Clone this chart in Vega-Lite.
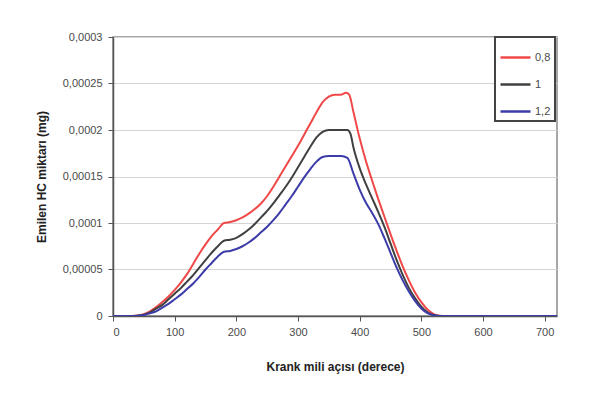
{
  "$schema": "https://vega.github.io/schema/vega-lite/v6.json",
  "autosize": {"type": "none"},
  "padding": {"left": 113, "top": 37, "right": 41, "bottom": 80},
  "width": 444,
  "height": 279,
  "background": "white",
  "config": {
    "font": "Liberation Sans",
    "view": {"stroke": "#8a8a8a", "strokeWidth": 1.5},
    "legend": {"strokeWidth": 2}
  },
  "datasets": {
    "d": [
      {"a":0,"v":0,"s":"0,8"},{"a":10,"v":0,"s":"0,8"},{"a":20,"v":0,"s":"0,8"},{"a":30,"v":0,"s":"0,8"},{"a":40,"v":0.0000005,"s":"0,8"},{"a":50,"v":0.000002,"s":"0,8"},{"a":60,"v":0.000005,"s":"0,8"},{"a":70,"v":0.0000095,"s":"0,8"},{"a":80,"v":0.000015,"s":"0,8"},{"a":90,"v":0.000021,"s":"0,8"},{"a":100,"v":0.000028,"s":"0,8"},{"a":110,"v":0.000036,"s":"0,8"},{"a":120,"v":0.000045,"s":"0,8"},{"a":130,"v":0.000056,"s":"0,8"},{"a":140,"v":0.000067,"s":"0,8"},{"a":150,"v":0.000077,"s":"0,8"},{"a":160,"v":0.000086,"s":"0,8"},{"a":170,"v":0.000093,"s":"0,8"},{"a":180,"v":0.0001,"s":"0,8"},{"a":190,"v":0.000101,"s":"0,8"},{"a":200,"v":0.000103,"s":"0,8"},{"a":210,"v":0.000106,"s":"0,8"},{"a":220,"v":0.00011,"s":"0,8"},{"a":230,"v":0.000115,"s":"0,8"},{"a":240,"v":0.000121,"s":"0,8"},{"a":250,"v":0.000129,"s":"0,8"},{"a":260,"v":0.000139,"s":"0,8"},{"a":270,"v":0.00015,"s":"0,8"},{"a":280,"v":0.000161,"s":"0,8"},{"a":290,"v":0.000172,"s":"0,8"},{"a":300,"v":0.000183,"s":"0,8"},{"a":310,"v":0.000195,"s":"0,8"},{"a":320,"v":0.000207,"s":"0,8"},{"a":330,"v":0.000219,"s":"0,8"},{"a":340,"v":0.00023,"s":"0,8"},{"a":350,"v":0.000236,"s":"0,8"},{"a":360,"v":0.000238,"s":"0,8"},{"a":370,"v":0.000238,"s":"0,8"},{"a":378,"v":0.00024,"s":"0,8"},{"a":383,"v":0.000238,"s":"0,8"},{"a":390,"v":0.000219,"s":"0,8"},{"a":400,"v":0.000191,"s":"0,8"},{"a":410,"v":0.000167,"s":"0,8"},{"a":420,"v":0.000146,"s":"0,8"},{"a":430,"v":0.000126,"s":"0,8"},{"a":440,"v":0.000107,"s":"0,8"},{"a":450,"v":0.000088,"s":"0,8"},{"a":460,"v":0.00007,"s":"0,8"},{"a":470,"v":0.000053,"s":"0,8"},{"a":480,"v":0.000038,"s":"0,8"},{"a":490,"v":0.000025,"s":"0,8"},{"a":500,"v":0.000015,"s":"0,8"},{"a":510,"v":0.000007,"s":"0,8"},{"a":520,"v":0.000002,"s":"0,8"},{"a":530,"v":0.0000003,"s":"0,8"},{"a":540,"v":0,"s":"0,8"},{"a":720,"v":0,"s":"0,8"},
      {"a":0,"v":0,"s":"1"},{"a":10,"v":0,"s":"1"},{"a":20,"v":0,"s":"1"},{"a":30,"v":0,"s":"1"},{"a":40,"v":0.0000004,"s":"1"},{"a":50,"v":0.0000015,"s":"1"},{"a":60,"v":0.000004,"s":"1"},{"a":70,"v":0.000008,"s":"1"},{"a":80,"v":0.000012,"s":"1"},{"a":90,"v":0.000018,"s":"1"},{"a":100,"v":0.000024,"s":"1"},{"a":110,"v":0.00003,"s":"1"},{"a":120,"v":0.000037,"s":"1"},{"a":130,"v":0.000044,"s":"1"},{"a":140,"v":0.000052,"s":"1"},{"a":150,"v":0.00006,"s":"1"},{"a":160,"v":0.000068,"s":"1"},{"a":170,"v":0.000075,"s":"1"},{"a":180,"v":0.000081,"s":"1"},{"a":190,"v":0.000082,"s":"1"},{"a":200,"v":0.000084,"s":"1"},{"a":210,"v":0.000088,"s":"1"},{"a":220,"v":0.000093,"s":"1"},{"a":230,"v":0.000099,"s":"1"},{"a":240,"v":0.000106,"s":"1"},{"a":250,"v":0.000113,"s":"1"},{"a":260,"v":0.000121,"s":"1"},{"a":270,"v":0.00013,"s":"1"},{"a":280,"v":0.000139,"s":"1"},{"a":290,"v":0.000149,"s":"1"},{"a":300,"v":0.00016,"s":"1"},{"a":310,"v":0.000171,"s":"1"},{"a":320,"v":0.000182,"s":"1"},{"a":330,"v":0.000192,"s":"1"},{"a":340,"v":0.000198,"s":"1"},{"a":350,"v":0.0002,"s":"1"},{"a":360,"v":0.0002,"s":"1"},{"a":370,"v":0.0002,"s":"1"},{"a":380,"v":0.0002,"s":"1"},{"a":385,"v":0.000196,"s":"1"},{"a":390,"v":0.000181,"s":"1"},{"a":400,"v":0.000159,"s":"1"},{"a":410,"v":0.000142,"s":"1"},{"a":420,"v":0.000127,"s":"1"},{"a":430,"v":0.000112,"s":"1"},{"a":440,"v":0.000096,"s":"1"},{"a":450,"v":0.000078,"s":"1"},{"a":460,"v":0.00006,"s":"1"},{"a":470,"v":0.000044,"s":"1"},{"a":480,"v":0.00003,"s":"1"},{"a":490,"v":0.000019,"s":"1"},{"a":500,"v":0.00001,"s":"1"},{"a":510,"v":0.000004,"s":"1"},{"a":520,"v":0.000001,"s":"1"},{"a":530,"v":0,"s":"1"},{"a":720,"v":0,"s":"1"},
      {"a":0,"v":0,"s":"1,2"},{"a":10,"v":0,"s":"1,2"},{"a":20,"v":0,"s":"1,2"},{"a":30,"v":0,"s":"1,2"},{"a":40,"v":0.0000002,"s":"1,2"},{"a":50,"v":0.000001,"s":"1,2"},{"a":60,"v":0.000003,"s":"1,2"},{"a":70,"v":0.000005,"s":"1,2"},{"a":80,"v":0.000009,"s":"1,2"},{"a":90,"v":0.000013,"s":"1,2"},{"a":100,"v":0.000018,"s":"1,2"},{"a":110,"v":0.000023,"s":"1,2"},{"a":120,"v":0.000029,"s":"1,2"},{"a":130,"v":0.000035,"s":"1,2"},{"a":140,"v":0.000042,"s":"1,2"},{"a":150,"v":0.00005,"s":"1,2"},{"a":160,"v":0.000057,"s":"1,2"},{"a":170,"v":0.000064,"s":"1,2"},{"a":180,"v":0.000069,"s":"1,2"},{"a":190,"v":0.00007,"s":"1,2"},{"a":200,"v":0.000072,"s":"1,2"},{"a":210,"v":0.000075,"s":"1,2"},{"a":220,"v":0.000079,"s":"1,2"},{"a":230,"v":0.000084,"s":"1,2"},{"a":240,"v":0.00009,"s":"1,2"},{"a":250,"v":0.000096,"s":"1,2"},{"a":260,"v":0.000103,"s":"1,2"},{"a":270,"v":0.000111,"s":"1,2"},{"a":280,"v":0.00012,"s":"1,2"},{"a":290,"v":0.000129,"s":"1,2"},{"a":300,"v":0.000139,"s":"1,2"},{"a":310,"v":0.000149,"s":"1,2"},{"a":320,"v":0.000158,"s":"1,2"},{"a":330,"v":0.000166,"s":"1,2"},{"a":340,"v":0.000171,"s":"1,2"},{"a":350,"v":0.000172,"s":"1,2"},{"a":360,"v":0.000172,"s":"1,2"},{"a":370,"v":0.000172,"s":"1,2"},{"a":380,"v":0.00017,"s":"1,2"},{"a":390,"v":0.000153,"s":"1,2"},{"a":400,"v":0.000136,"s":"1,2"},{"a":410,"v":0.000122,"s":"1,2"},{"a":420,"v":0.000111,"s":"1,2"},{"a":430,"v":0.000099,"s":"1,2"},{"a":440,"v":0.000084,"s":"1,2"},{"a":450,"v":0.000068,"s":"1,2"},{"a":460,"v":0.000052,"s":"1,2"},{"a":470,"v":0.000038,"s":"1,2"},{"a":480,"v":0.000026,"s":"1,2"},{"a":490,"v":0.000016,"s":"1,2"},{"a":500,"v":0.000008,"s":"1,2"},{"a":510,"v":0.000003,"s":"1,2"},{"a":520,"v":0.0000008,"s":"1,2"},{"a":530,"v":0,"s":"1,2"},{"a":720,"v":0,"s":"1,2"}
    ]
  },
  "data": {"name": "d"},
  "mark": {"type": "line", "interpolate": "monotone", "strokeWidth": 2, "clip": true},
  "encoding": {
    "x": {
      "field": "a", "type": "quantitative",
      "scale": {"domain": [0, 720], "nice": false},
      "axis": {
        "values": [0, 100, 200, 300, 400, 500, 600, 700],
        "title": "Krank mili açısı (derece)",
        "grid": false,
        "domainColor": "#555", "domainWidth": 1.5,
        "tickColor": "#555", "tickSize": 5,
        "labelFont": "Liberation Sans", "labelFontSize": 11, "labelColor": "#4a4a4a", "labelPadding": 5,
        "titleFont": "Liberation Sans", "titleFontSize": 12, "titleFontWeight": "bold", "titleColor": "#222", "titlePadding": 24
      }
    },
    "y": {
      "field": "v", "type": "quantitative",
      "scale": {"domain": [0, 0.0003], "nice": false},
      "axis": {
        "values": [0, 0.00005, 0.0001, 0.00015, 0.0002, 0.00025, 0.0003],
        "labelExpr": "replace(toString(datum.value), '.', ',')",
        "title": "Emilen HC miktarı (mg)",
        "grid": true, "gridColor": "#d4d4d4", "gridWidth": 1,
        "domainColor": "#555", "domainWidth": 1.5,
        "tickColor": "#555", "tickSize": 5,
        "labelFont": "Liberation Sans", "labelFontSize": 11, "labelColor": "#4a4a4a", "labelPadding": 6,
        "titleFont": "Liberation Sans", "titleFontSize": 12, "titleFontWeight": "bold", "titleColor": "#222", "titlePadding": 14
      }
    },
    "color": {
      "field": "s", "type": "nominal",
      "scale": {"domain": ["0,8", "1", "1,2"], "range": ["#f04848", "#404040", "#3c3ca8"]},
      "legend": {
        "title": null,
        "orient": "none",
        "legendX": 382,
        "legendY": 0,
        "symbolType": "stroke",
        "symbolSize": 900,
        "symbolStrokeWidth": 2.5,
        "labelFont": "Liberation Sans",
        "labelFontSize": 11,
        "labelColor": "#4a4a4a",
        "labelOffset": 3,
        "rowPadding": 5,
        "padding": 4,
        "strokeColor": "#444",
        "fillColor": "white",
        "cornerRadius": 0
      }
    }
  }
}
